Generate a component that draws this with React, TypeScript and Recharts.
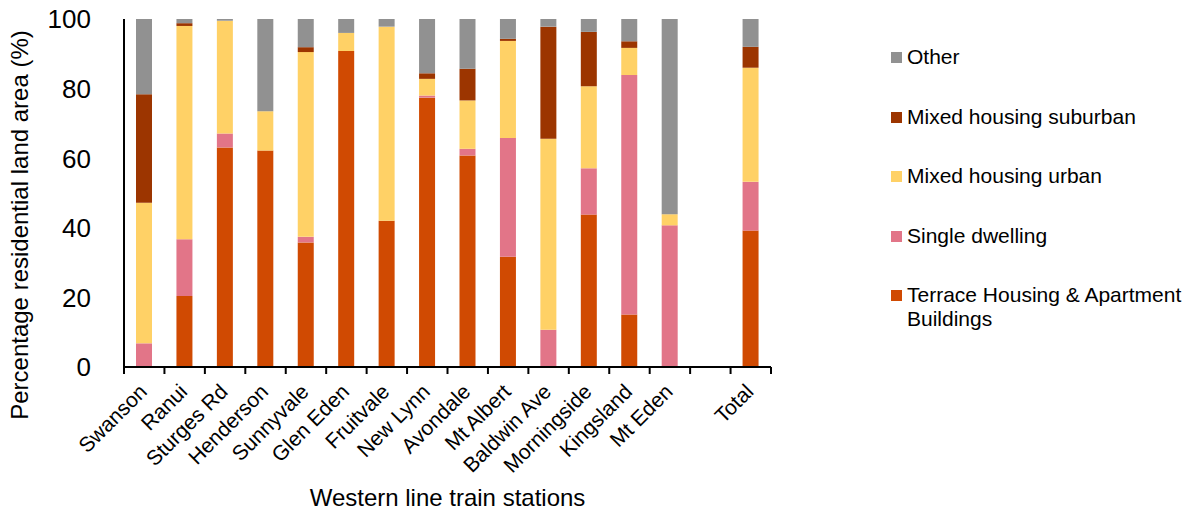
import React from 'react';
import { BarChart, Bar, XAxis, YAxis } from 'recharts';

document.body.style.margin = '0';

const categories = [
  'Swanson', 'Ranui', 'Sturges Rd', 'Henderson', 'Sunnyvale', 'Glen Eden', 'Fruitvale',
  'New Lynn', 'Avondale', 'Mt Albert', 'Baldwin Ave', 'Morningside', 'Kingsland', 'Mt Eden', '', 'Total',
];

const terrace = [0, 20.4, 63.1, 62.2, 35.8, 90.8, 42, 77.4, 60.8, 31.7, 0, 43.8, 15.1, 0, null, 39.2];
const single = [6.8, 16.3, 4, 0, 1.6, 0, 0, 0.6, 1.9, 34.1, 10.7, 13.3, 68.8, 40.7, null, 14];
const mixedUrban = [40.4, 61.3, 32.4, 11.3, 53.1, 5.2, 55.8, 4.8, 13.9, 27.9, 54.9, 23.6, 7.8, 3.2, null, 32.8];
const mixedSuburban = [31.2, 0.8, 0, 0, 1.4, 0, 0, 1.6, 9.1, 0.6, 32.2, 15.6, 1.9, 0, null, 6];
const other = [21.6, 1.2, 0.5, 26.5, 8.1, 4, 2.2, 15.6, 14.3, 5.7, 2.2, 3.7, 6.4, 56.1, null, 8];

const yTicks = [0, 20, 40, 60, 80, 100];

const series = [
  { key: 'terrace', name: 'Terrace Housing & Apartment Buildings', color: '#D04A02', values: terrace },
  { key: 'single', name: 'Single dwelling', color: '#E27588', values: single },
  { key: 'mixedUrban', name: 'Mixed housing urban', color: '#FFD166', values: mixedUrban },
  { key: 'mixedSuburban', name: 'Mixed housing suburban', color: '#9C3500', values: mixedSuburban },
  { key: 'other', name: 'Other', color: '#919191', values: other },
];

const data = categories.map((name, i) => {
  const row: Record<string, any> = { name };
  series.forEach((s) => { row[s.key] = s.values[i]; });
  return row;
});

const FONT = '"Liberation Sans", Arial, sans-serif';
const PLOT_LEFT = 124;
const PLOT_RIGHT = 771;
const BAND = (PLOT_RIGHT - PLOT_LEFT) / categories.length;

const XTick = (props: any) => {
  const { x, y, payload, index } = props;
  const left = x - BAND / 2;
  const ax = x + 4;
  const ay = y + 26;
  return (
    <g>
      <line x1={left} y1={y} x2={left} y2={y + 7} stroke="#000" strokeWidth={2} />
      {index === categories.length - 1 && (
        <line x1={x + BAND / 2} y1={y} x2={x + BAND / 2} y2={y + 7} stroke="#000" strokeWidth={2} />
      )}
      <text
        x={ax}
        y={ay}
        transform={`rotate(-45 ${ax} ${ay})`}
        textAnchor="end"
        fontSize={21}
        fontFamily={FONT}
        fill="#000"
      >
        {payload.value}
      </text>
    </g>
  );
};

const YTick = (props: any) => {
  const { x, y, payload } = props;
  return (
    <text x={x} y={y} dy="0.36em" textAnchor="end" fontSize={26} fontFamily={FONT} fill="#000">
      {payload.value}
    </text>
  );
};

const App = () => {
  return (
    <div style={{ position: 'relative', width: 1199, height: 518, background: '#fff' }}>
      <BarChart
        width={1199}
        height={518}
        data={data}
        margin={{ top: 19, right: 1199 - PLOT_RIGHT, bottom: 41, left: 0 }}
        barSize={16}
      >
        <XAxis
          dataKey="name"
          interval={0}
          height={110}
          tickLine={false}
          tickSize={0}
          tickMargin={0}
          axisLine={{ stroke: '#000', strokeWidth: 2 }}
          tick={<XTick />}
          label={({ viewBox }: any) => (
            <text
              x={viewBox.x + viewBox.width / 2}
              y={viewBox.y + 130}
              dy="0.36em"
              textAnchor="middle"
              fontSize={24}
              fontFamily={FONT}
              fill="#000"
            >
              Western line train stations
            </text>
          )}
        />
        <YAxis
          width={PLOT_LEFT}
          domain={[0, 100]}
          ticks={yTicks}
          interval={0}
          tickLine={false}
          tickSize={0}
          tickMargin={33}
          axisLine={{ stroke: '#000', strokeWidth: 2 }}
          tick={<YTick />}
          label={() => (
            <text
              x={19}
              y={225}
              dy="0.36em"
              transform="rotate(-90 19 225)"
              textAnchor="middle"
              fontSize={24}
              fontFamily={FONT}
              fill="#000"
            >
              Percentage residential land area (%)
            </text>
          )}
        />
        {series.map((s) => (
          <Bar key={s.key} dataKey={s.key} name={s.name} stackId="a" fill={s.color} isAnimationActive={false} />
        ))}
      </BarChart>
      <div style={{ position: 'absolute', left: 891, top: 0, width: 300, fontFamily: FONT, fontSize: 21, color: '#000' }}>
        {[...series].reverse().map((s, i) => (
          <div
            key={s.key}
            style={{ position: 'absolute', top: 45 + i * 59.5, left: 0, display: 'flex', alignItems: 'flex-start', lineHeight: '24px' }}
          >
            <span style={{ width: 11, height: 11, background: s.color, marginTop: 7, marginRight: 5, flex: 'none' }} />
            <span style={{ width: 290 }}>{s.name}</span>
          </div>
        ))}
      </div>
    </div>
  );
};

export default App;
